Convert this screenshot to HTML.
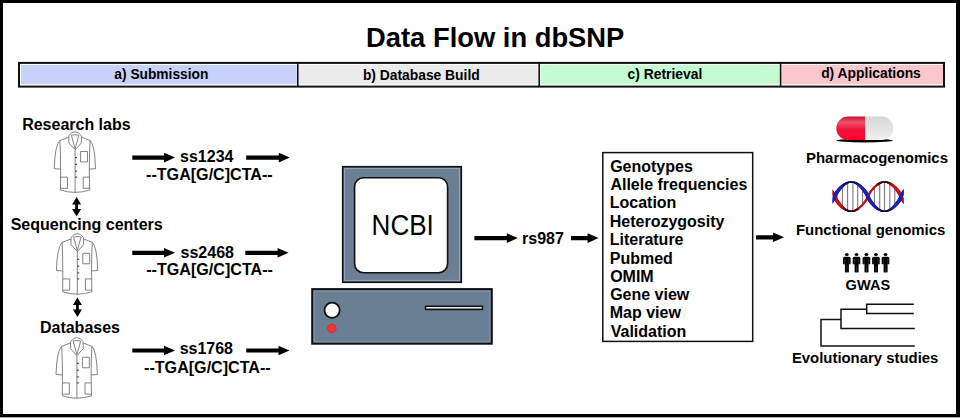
<!DOCTYPE html>
<html><head><meta charset="utf-8"><title>Data Flow in dbSNP</title>
<style>
html,body{margin:0;padding:0;background:#fff;}
body{width:960px;height:418px;overflow:hidden;position:relative;font-family:"Liberation Sans",sans-serif;}
svg{position:absolute;left:0;top:0;}
</style></head>
<body>
<svg width="960" height="418" viewBox="0 0 960 418">
<defs>
<linearGradient id="redg" x1="0" y1="0" x2="0" y2="1">
<stop offset="0" stop-color="#c8102e"/><stop offset="0.25" stop-color="#f0526a"/><stop offset="0.55" stop-color="#f0143a"/><stop offset="1" stop-color="#ff0030"/>
</linearGradient>
<linearGradient id="whg" x1="0" y1="0" x2="0" y2="1">
<stop offset="0" stop-color="#d8d8d8"/><stop offset="0.5" stop-color="#e2e2e2"/><stop offset="1" stop-color="#f2f2f2"/>
</linearGradient>
</defs>
<rect x="0" y="0" width="960" height="418" fill="#fff"/>
<rect x="1.5" y="1.5" width="956" height="414" fill="none" stroke="#000" stroke-width="3"/><rect x="956" y="0" width="4" height="417" fill="#000"/><rect x="0" y="417" width="960" height="1" fill="#aaa"/>
<!-- header bar -->
<rect x="20" y="63.9" width="277.5" height="21.7" fill="#fff"/>
<rect x="298.5" y="63.9" width="240.5" height="21.7" fill="#fff"/>
<rect x="539.5" y="63.9" width="241" height="21.7" fill="#fff"/>
<rect x="781" y="63.9" width="163" height="21.7" fill="#fff"/>
<rect x="21" y="64.9" width="275.8" height="19.4" fill="#c8d1f9"/>
<rect x="299" y="64.9" width="239.4" height="19.4" fill="#ebebeb"/>
<rect x="540.5" y="64.9" width="239.2" height="19.4" fill="#c4fbd2"/>
<rect x="781.8" y="64.9" width="161.4" height="19.4" fill="#f9c7cc"/>
<rect x="19" y="62.9" width="925" height="23.7" fill="none" stroke="#111" stroke-width="2"/>
<line x1="297.8" y1="63" x2="297.8" y2="86.6" stroke="#111" stroke-width="1.6"/>
<line x1="539.2" y1="63" x2="539.2" y2="86.6" stroke="#111" stroke-width="1.6"/>
<line x1="780.6" y1="63" x2="780.6" y2="86.6" stroke="#111" stroke-width="1.6"/>
<!-- arrows -->
<path d="M132.3,155.5 L164.0,155.5 L164.0,152.79999999999998 L175.0,157.6 L164.0,162.4 L164.0,159.7 L132.3,159.7 Z" fill="#000"/><path d="M246.2,155.5 L278.8,155.5 L278.8,152.79999999999998 L289.8,157.6 L278.8,162.4 L278.8,159.7 L246.2,159.7 Z" fill="#000"/><path d="M132.3,250.70000000000002 L164.0,250.70000000000002 L164.0,248.0 L175.0,252.8 L164.0,257.6 L164.0,254.9 L132.3,254.9 Z" fill="#000"/><path d="M245.3,250.70000000000002 L277.6,250.70000000000002 L277.6,248.0 L288.6,252.8 L277.6,257.6 L277.6,254.9 L245.3,254.9 Z" fill="#000"/><path d="M132.3,348.4 L164.0,348.4 L164.0,345.7 L175.0,350.5 L164.0,355.3 L164.0,352.6 L132.3,352.6 Z" fill="#000"/><path d="M246.2,348.4 L278.5,348.4 L278.5,345.7 L289.5,350.5 L278.5,355.3 L278.5,352.6 L246.2,352.6 Z" fill="#000"/><path d="M474.4,236.0 L506.79999999999995,236.0 L506.79999999999995,233.29999999999998 L517.8,238.1 L506.79999999999995,242.9 L506.79999999999995,240.2 L474.4,240.2 Z" fill="#000"/><path d="M571,236.0 L587.5999999999999,236.0 L587.5999999999999,233.29999999999998 L598.5999999999999,238.1 L587.5999999999999,242.9 L587.5999999999999,240.2 L571,240.2 Z" fill="#000"/><path d="M756,235.20000000000002 L773.0999999999999,235.20000000000002 L773.0999999999999,232.5 L784.0999999999999,237.3 L773.0999999999999,242.10000000000002 L773.0999999999999,239.4 L756,239.4 Z" fill="#000"/><path d="M76.6,196.9 L81.1,204.4 L78.0,204.4 L78.0,208.9 L81.1,208.9 L76.6,216.4 L72.1,208.9 L75.19999999999999,208.9 L75.19999999999999,204.4 L72.1,204.4 Z" fill="#000"/><path d="M77.4,297.4 L81.9,304.9 L78.80000000000001,304.9 L78.80000000000001,309.6 L81.9,309.6 L77.4,317.1 L72.9,309.6 L76.0,309.6 L76.0,304.9 L72.9,304.9 Z" fill="#000"/>
<!-- coats -->
<g transform="translate(53.4,131.0) scale(1.0,1.025)" fill="none" stroke="#777" stroke-width="0.9"><path d="M15.4,4.6 Q21.7,-3.2 28,4.6"/><path d="M18,4.1 Q21.7,3.2 25.5,4.1"/><path d="M15.4,4.6 L15.4,11.6 L21.7,18.4 L28,11.6 L28,4.6"/><path d="M18,4.1 L21.7,17.4 L25.5,4.1"/><path d="M15.4,6 L6.5,9.3 Q1.5,14 0.8,36.8 L7.2,37.2"/><path d="M28,6 L36.7,9.3 Q41.6,14 42.1,36.8 L35.9,37.2"/><path d="M6.5,9.3 Q7.2,22 7.2,37.2"/><path d="M36.7,9.3 Q35.9,22 35.9,37.2"/><path d="M7.2,37.2 L7.1,57.6"/><path d="M35.9,37.2 L36.3,57.6"/><path d="M7.1,57.6 Q21.6,62.2 36.3,57.6"/><path d="M21.7,18.4 L21.7,60.3"/><path d="M27.2,20 L34.1,20 L34.1,30.2 L27.2,30.2 Z"/><path d="M7.3,45 L14.1,45 L14.1,55.9 L7.3,55.9"/><path d="M36.1,45 L29.8,45 L29.8,55.9 L36.1,55.9"/><g stroke="#444" stroke-width="1.2"><line x1="21.7" y1="25.9" x2="23.6" y2="25.9"/><line x1="21.7" y1="32.6" x2="23.6" y2="32.6"/><line x1="21.7" y1="39.1" x2="23.6" y2="39.1"/><line x1="21.7" y1="45" x2="23.6" y2="45"/></g></g><g transform="translate(55.6,232.8) scale(1.0,1.025)" fill="none" stroke="#777" stroke-width="0.9"><path d="M15.4,4.6 Q21.7,-3.2 28,4.6"/><path d="M18,4.1 Q21.7,3.2 25.5,4.1"/><path d="M15.4,4.6 L15.4,11.6 L21.7,18.4 L28,11.6 L28,4.6"/><path d="M18,4.1 L21.7,17.4 L25.5,4.1"/><path d="M15.4,6 L6.5,9.3 Q1.5,14 0.8,36.8 L7.2,37.2"/><path d="M28,6 L36.7,9.3 Q41.6,14 42.1,36.8 L35.9,37.2"/><path d="M6.5,9.3 Q7.2,22 7.2,37.2"/><path d="M36.7,9.3 Q35.9,22 35.9,37.2"/><path d="M7.2,37.2 L7.1,57.6"/><path d="M35.9,37.2 L36.3,57.6"/><path d="M7.1,57.6 Q21.6,62.2 36.3,57.6"/><path d="M21.7,18.4 L21.7,60.3"/><path d="M27.2,20 L34.1,20 L34.1,30.2 L27.2,30.2 Z"/><path d="M7.3,45 L14.1,45 L14.1,55.9 L7.3,55.9"/><path d="M36.1,45 L29.8,45 L29.8,55.9 L36.1,55.9"/><g stroke="#444" stroke-width="1.2"><line x1="21.7" y1="25.9" x2="23.6" y2="25.9"/><line x1="21.7" y1="32.6" x2="23.6" y2="32.6"/><line x1="21.7" y1="39.1" x2="23.6" y2="39.1"/><line x1="21.7" y1="45" x2="23.6" y2="45"/></g></g><g transform="translate(55.2,336.8) scale(1.0,1.025)" fill="none" stroke="#777" stroke-width="0.9"><path d="M15.4,4.6 Q21.7,-3.2 28,4.6"/><path d="M18,4.1 Q21.7,3.2 25.5,4.1"/><path d="M15.4,4.6 L15.4,11.6 L21.7,18.4 L28,11.6 L28,4.6"/><path d="M18,4.1 L21.7,17.4 L25.5,4.1"/><path d="M15.4,6 L6.5,9.3 Q1.5,14 0.8,36.8 L7.2,37.2"/><path d="M28,6 L36.7,9.3 Q41.6,14 42.1,36.8 L35.9,37.2"/><path d="M6.5,9.3 Q7.2,22 7.2,37.2"/><path d="M36.7,9.3 Q35.9,22 35.9,37.2"/><path d="M7.2,37.2 L7.1,57.6"/><path d="M35.9,37.2 L36.3,57.6"/><path d="M7.1,57.6 Q21.6,62.2 36.3,57.6"/><path d="M21.7,18.4 L21.7,60.3"/><path d="M27.2,20 L34.1,20 L34.1,30.2 L27.2,30.2 Z"/><path d="M7.3,45 L14.1,45 L14.1,55.9 L7.3,55.9"/><path d="M36.1,45 L29.8,45 L29.8,55.9 L36.1,55.9"/><g stroke="#444" stroke-width="1.2"><line x1="21.7" y1="25.9" x2="23.6" y2="25.9"/><line x1="21.7" y1="32.6" x2="23.6" y2="32.6"/><line x1="21.7" y1="39.1" x2="23.6" y2="39.1"/><line x1="21.7" y1="45" x2="23.6" y2="45"/></g></g>
<!-- monitor -->
<rect x="342.7" y="166.7" width="118.6" height="115.6" fill="#6a7e94" stroke="#111" stroke-width="1.6"/>
<rect x="344.6" y="168.6" width="114.8" height="111.8" fill="none" stroke="#97a7b9" stroke-width="1"/>
<rect x="354.6" y="177.8" width="93" height="95" rx="9" ry="9" fill="#fff" stroke="#111" stroke-width="1.6"/>
<!-- base -->
<rect x="312.2" y="289.1" width="179.6" height="54.6" fill="#6a7e94" stroke="#111" stroke-width="2"/><rect x="314.2" y="291.1" width="175.6" height="50.6" fill="none" stroke="#8a9caf" stroke-width="0.8"/>
<circle cx="332.1" cy="310.2" r="7.6" fill="#fff" stroke="#111" stroke-width="1.8"/>
<circle cx="331.8" cy="328.4" r="4.3" fill="#ff3030" stroke="#d02020" stroke-width="0.6"/>
<rect x="424.8" y="305.4" width="58.4" height="4.8" rx="0.8" fill="#111"/><rect x="426.2" y="307.1" width="55.6" height="1.4" fill="#fff"/>
<!-- list box -->
<rect x="602.8" y="152.6" width="149.9" height="188.8" fill="#fff" stroke="#111" stroke-width="1.5"/>
<!-- pill -->
<ellipse cx="864.7" cy="140.6" rx="28.5" ry="1.8" fill="#000"/>
<path d="M865.2,116.5 L848,116.5 A11.7,11.7 0 0 0 848,139.9 L865.2,139.9 Z" fill="url(#redg)"/>
<path d="M865.2,116.5 L881.7,116.5 A11.7,11.7 0 0 1 881.7,139.9 L865.2,139.9 Z" fill="url(#whg)"/>
<!-- GWAS people -->
<g fill="#000"><ellipse cx="846.8" cy="254.4" rx="1.9" ry="1.5"/><path d="M843,264.3 L843,258.2 Q843,256.7 844.5,256.7 L849.1,256.7 Q850.6,256.7 850.6,258.2 L850.6,264.3 Z"/><rect x="844.9" y="263.5" width="4" height="8.9"/></g><g stroke="#555" stroke-width="0.5"><line x1="844.6" y1="258.5" x2="844.6" y2="264.3"/><line x1="849.0" y1="258.5" x2="849.0" y2="264.3"/><line x1="846.9" y1="265.5" x2="846.9" y2="272.4"/></g><g fill="#000"><ellipse cx="856.5" cy="254.4" rx="1.9" ry="1.5"/><path d="M852.7,264.3 L852.7,258.2 Q852.7,256.7 854.2,256.7 L858.8000000000001,256.7 Q860.3000000000001,256.7 860.3000000000001,258.2 L860.3000000000001,264.3 Z"/><rect x="854.6" y="263.5" width="4" height="8.9"/></g><g stroke="#555" stroke-width="0.5"><line x1="854.3000000000001" y1="258.5" x2="854.3000000000001" y2="264.3"/><line x1="858.7" y1="258.5" x2="858.7" y2="264.3"/><line x1="856.6" y1="265.5" x2="856.6" y2="272.4"/></g><g fill="#000"><ellipse cx="866.4" cy="254.4" rx="1.9" ry="1.5"/><path d="M862.6,264.3 L862.6,258.2 Q862.6,256.7 864.1,256.7 L868.7,256.7 Q870.2,256.7 870.2,258.2 L870.2,264.3 Z"/><rect x="864.5" y="263.5" width="4" height="8.9"/></g><g stroke="#555" stroke-width="0.5"><line x1="864.2" y1="258.5" x2="864.2" y2="264.3"/><line x1="868.6" y1="258.5" x2="868.6" y2="264.3"/><line x1="866.5" y1="265.5" x2="866.5" y2="272.4"/></g><g fill="#000"><ellipse cx="875.9" cy="254.4" rx="1.9" ry="1.5"/><path d="M872.1,264.3 L872.1,258.2 Q872.1,256.7 873.6,256.7 L878.2,256.7 Q879.7,256.7 879.7,258.2 L879.7,264.3 Z"/><rect x="874.0" y="263.5" width="4" height="8.9"/></g><g stroke="#555" stroke-width="0.5"><line x1="873.7" y1="258.5" x2="873.7" y2="264.3"/><line x1="878.1" y1="258.5" x2="878.1" y2="264.3"/><line x1="876.0" y1="265.5" x2="876.0" y2="272.4"/></g><g fill="#000"><ellipse cx="885.5" cy="254.4" rx="1.9" ry="1.5"/><path d="M881.7,264.3 L881.7,258.2 Q881.7,256.7 883.2,256.7 L887.8000000000001,256.7 Q889.3000000000001,256.7 889.3000000000001,258.2 L889.3000000000001,264.3 Z"/><rect x="883.6" y="263.5" width="4" height="8.9"/></g><g stroke="#555" stroke-width="0.5"><line x1="883.3000000000001" y1="258.5" x2="883.3000000000001" y2="264.3"/><line x1="887.7" y1="258.5" x2="887.7" y2="264.3"/><line x1="885.6" y1="265.5" x2="885.6" y2="272.4"/></g>
<!-- tree -->
<g fill="none" stroke="#111" stroke-width="1.5">
<path d="M914.8,346 L821,346 L821,319.4 L841,319.4"/>
<path d="M914.8,328.6 L841,328.6 L841,309.3 L866.7,309.3"/>
<path d="M913.8,304.3 L866.7,304.3 L866.7,313.4 L913.8,313.4"/>
</g>
<clipPath id="dnaclip"><rect x="832.7" y="176" width="70.8" height="40"/></clipPath><g clip-path="url(#dnaclip)"><line x1="837.3" y1="192.75" x2="837.3" y2="200.45" stroke="#7a7a7a" stroke-width="1.1"/><line x1="842.4" y1="186.99" x2="842.4" y2="206.21" stroke="#7a7a7a" stroke-width="1.1"/><line x1="847.6" y1="183.69" x2="847.6" y2="209.51" stroke="#7a7a7a" stroke-width="1.1"/><line x1="852.9" y1="183.14" x2="852.9" y2="210.06" stroke="#7a7a7a" stroke-width="1.1"/><line x1="857.7" y1="185.14" x2="857.7" y2="208.06" stroke="#7a7a7a" stroke-width="1.1"/><line x1="862.6" y1="189.49" x2="862.6" y2="203.71" stroke="#7a7a7a" stroke-width="1.1"/><line x1="869.6" y1="194.23" x2="869.6" y2="198.97" stroke="#7a7a7a" stroke-width="1.1"/><line x1="874.4" y1="188.22" x2="874.4" y2="204.98" stroke="#7a7a7a" stroke-width="1.1"/><line x1="879.7" y1="184.21" x2="879.7" y2="208.99" stroke="#7a7a7a" stroke-width="1.1"/><line x1="884.5" y1="183.00" x2="884.5" y2="210.20" stroke="#7a7a7a" stroke-width="1.1"/><line x1="889.8" y1="184.42" x2="889.8" y2="208.78" stroke="#7a7a7a" stroke-width="1.1"/><line x1="894.8" y1="188.32" x2="894.8" y2="204.88" stroke="#7a7a7a" stroke-width="1.1"/><line x1="826.27" y1="185.54" x2="826.97" y2="186.14" stroke="#b1101b" stroke-width="2.83" stroke-linecap="round"/><line x1="826.97" y1="186.14" x2="827.66" y2="186.78" stroke="#bf111c" stroke-width="2.96" stroke-linecap="round"/><line x1="827.66" y1="186.78" x2="828.36" y2="187.48" stroke="#c8121e" stroke-width="3.08" stroke-linecap="round"/><line x1="828.36" y1="187.48" x2="829.05" y2="188.21" stroke="#c8121e" stroke-width="3.20" stroke-linecap="round"/><line x1="829.05" y1="188.21" x2="829.74" y2="189.00" stroke="#c8121e" stroke-width="3.30" stroke-linecap="round"/><line x1="829.74" y1="189.00" x2="830.44" y2="189.83" stroke="#c8121e" stroke-width="3.40" stroke-linecap="round"/><line x1="830.44" y1="189.83" x2="831.13" y2="190.71" stroke="#c8121e" stroke-width="3.48" stroke-linecap="round"/><line x1="831.13" y1="190.71" x2="831.83" y2="191.65" stroke="#c8121e" stroke-width="3.55" stroke-linecap="round"/><line x1="831.83" y1="191.65" x2="832.52" y2="192.65" stroke="#c8121e" stroke-width="3.61" stroke-linecap="round"/><line x1="832.52" y1="192.65" x2="833.21" y2="193.74" stroke="#c8121e" stroke-width="3.65" stroke-linecap="round"/><line x1="833.21" y1="193.74" x2="833.91" y2="194.95" stroke="#c8121e" stroke-width="3.68" stroke-linecap="round"/><line x1="833.91" y1="194.95" x2="834.60" y2="196.60" stroke="#c8121e" stroke-width="3.70" stroke-linecap="round"/><line x1="834.60" y1="196.60" x2="835.29" y2="198.25" stroke="#c8121e" stroke-width="3.70" stroke-linecap="round"/><line x1="835.29" y1="198.25" x2="835.99" y2="199.46" stroke="#c8121e" stroke-width="3.68" stroke-linecap="round"/><line x1="835.99" y1="199.46" x2="836.68" y2="200.55" stroke="#c8121e" stroke-width="3.65" stroke-linecap="round"/><line x1="836.68" y1="200.55" x2="837.38" y2="201.55" stroke="#c8121e" stroke-width="3.61" stroke-linecap="round"/><line x1="837.38" y1="201.55" x2="838.07" y2="202.49" stroke="#c8121e" stroke-width="3.55" stroke-linecap="round"/><line x1="838.07" y1="202.49" x2="838.76" y2="203.37" stroke="#c8121e" stroke-width="3.48" stroke-linecap="round"/><line x1="838.76" y1="203.37" x2="839.46" y2="204.20" stroke="#c8121e" stroke-width="3.40" stroke-linecap="round"/><line x1="839.46" y1="204.20" x2="840.15" y2="204.99" stroke="#c8121e" stroke-width="3.30" stroke-linecap="round"/><line x1="840.15" y1="204.99" x2="840.84" y2="205.72" stroke="#c8121e" stroke-width="3.20" stroke-linecap="round"/><line x1="840.84" y1="205.72" x2="841.54" y2="206.42" stroke="#c8121e" stroke-width="3.08" stroke-linecap="round"/><line x1="841.54" y1="206.42" x2="842.23" y2="207.06" stroke="#bf111c" stroke-width="2.96" stroke-linecap="round"/><line x1="842.23" y1="207.06" x2="842.93" y2="207.66" stroke="#b1101b" stroke-width="2.83" stroke-linecap="round"/><line x1="842.93" y1="207.66" x2="843.62" y2="208.22" stroke="#a30f19" stroke-width="2.70" stroke-linecap="round"/><line x1="843.62" y1="208.22" x2="844.31" y2="208.73" stroke="#930e17" stroke-width="2.56" stroke-linecap="round"/><line x1="844.31" y1="208.73" x2="845.01" y2="209.20" stroke="#830c15" stroke-width="2.42" stroke-linecap="round"/><line x1="845.01" y1="209.20" x2="845.70" y2="209.61" stroke="#710b13" stroke-width="2.28" stroke-linecap="round"/><line x1="845.70" y1="209.61" x2="846.39" y2="209.98" stroke="#600a10" stroke-width="2.14" stroke-linecap="round"/><line x1="846.39" y1="209.98" x2="847.09" y2="210.30" stroke="#4d080e" stroke-width="2.01" stroke-linecap="round"/><line x1="847.09" y1="210.30" x2="847.78" y2="210.58" stroke="#3a070c" stroke-width="1.88" stroke-linecap="round"/><line x1="847.78" y1="210.58" x2="848.48" y2="210.80" stroke="#2a060a" stroke-width="1.76" stroke-linecap="round"/><line x1="848.48" y1="210.80" x2="849.17" y2="210.98" stroke="#2a060a" stroke-width="1.65" stroke-linecap="round"/><line x1="849.17" y1="210.98" x2="849.86" y2="211.10" stroke="#2a060a" stroke-width="1.55" stroke-linecap="round"/><line x1="849.86" y1="211.10" x2="850.56" y2="211.17" stroke="#2a060a" stroke-width="1.47" stroke-linecap="round"/><line x1="850.56" y1="211.17" x2="851.25" y2="211.20" stroke="#2a060a" stroke-width="1.42" stroke-linecap="round"/><line x1="851.25" y1="211.20" x2="851.94" y2="211.17" stroke="#2a060a" stroke-width="1.42" stroke-linecap="round"/><line x1="851.94" y1="211.17" x2="852.64" y2="211.10" stroke="#2a060a" stroke-width="1.47" stroke-linecap="round"/><line x1="852.64" y1="211.10" x2="853.33" y2="210.98" stroke="#2a060a" stroke-width="1.55" stroke-linecap="round"/><line x1="853.33" y1="210.98" x2="854.02" y2="210.80" stroke="#2a060a" stroke-width="1.65" stroke-linecap="round"/><line x1="854.02" y1="210.80" x2="854.72" y2="210.58" stroke="#2a060a" stroke-width="1.76" stroke-linecap="round"/><line x1="854.72" y1="210.58" x2="855.41" y2="210.30" stroke="#3a070c" stroke-width="1.88" stroke-linecap="round"/><line x1="855.41" y1="210.30" x2="856.11" y2="209.98" stroke="#4d080e" stroke-width="2.01" stroke-linecap="round"/><line x1="856.11" y1="209.98" x2="856.80" y2="209.61" stroke="#600a10" stroke-width="2.14" stroke-linecap="round"/><line x1="856.80" y1="209.61" x2="857.49" y2="209.20" stroke="#710b13" stroke-width="2.28" stroke-linecap="round"/><line x1="857.49" y1="209.20" x2="858.19" y2="208.73" stroke="#830c15" stroke-width="2.42" stroke-linecap="round"/><line x1="858.19" y1="208.73" x2="858.88" y2="208.22" stroke="#930e17" stroke-width="2.11" stroke-linecap="round"/><line x1="858.88" y1="208.22" x2="859.58" y2="207.66" stroke="#a30f19" stroke-width="1.76" stroke-linecap="round"/><line x1="859.58" y1="207.66" x2="860.27" y2="207.06" stroke="#b1101b" stroke-width="1.83" stroke-linecap="round"/><line x1="860.27" y1="207.06" x2="860.96" y2="206.42" stroke="#bf111c" stroke-width="1.88" stroke-linecap="round"/><line x1="860.96" y1="206.42" x2="861.66" y2="205.72" stroke="#c8121e" stroke-width="1.94" stroke-linecap="round"/><line x1="861.66" y1="205.72" x2="862.35" y2="204.99" stroke="#c8121e" stroke-width="1.99" stroke-linecap="round"/><line x1="862.35" y1="204.99" x2="863.04" y2="204.20" stroke="#c8121e" stroke-width="2.04" stroke-linecap="round"/><line x1="863.04" y1="204.20" x2="863.74" y2="203.37" stroke="#c8121e" stroke-width="2.08" stroke-linecap="round"/><line x1="863.74" y1="203.37" x2="864.43" y2="202.49" stroke="#c8121e" stroke-width="2.12" stroke-linecap="round"/><line x1="864.43" y1="202.49" x2="865.12" y2="201.55" stroke="#c8121e" stroke-width="2.15" stroke-linecap="round"/><line x1="865.12" y1="201.55" x2="865.82" y2="200.55" stroke="#c8121e" stroke-width="2.17" stroke-linecap="round"/><line x1="865.82" y1="200.55" x2="866.51" y2="199.46" stroke="#c8121e" stroke-width="2.19" stroke-linecap="round"/><line x1="866.51" y1="199.46" x2="867.21" y2="198.25" stroke="#c8121e" stroke-width="2.21" stroke-linecap="round"/><line x1="867.21" y1="198.25" x2="867.90" y2="196.60" stroke="#c8121e" stroke-width="2.21" stroke-linecap="round"/><line x1="867.90" y1="196.60" x2="868.59" y2="194.95" stroke="#c8121e" stroke-width="2.21" stroke-linecap="round"/><line x1="868.59" y1="194.95" x2="869.29" y2="193.74" stroke="#c8121e" stroke-width="2.21" stroke-linecap="round"/><line x1="869.29" y1="193.74" x2="869.98" y2="192.65" stroke="#c8121e" stroke-width="2.19" stroke-linecap="round"/><line x1="869.98" y1="192.65" x2="870.68" y2="191.65" stroke="#c8121e" stroke-width="2.17" stroke-linecap="round"/><line x1="870.68" y1="191.65" x2="871.37" y2="190.71" stroke="#c8121e" stroke-width="2.15" stroke-linecap="round"/><line x1="871.37" y1="190.71" x2="872.06" y2="189.83" stroke="#c8121e" stroke-width="2.12" stroke-linecap="round"/><line x1="872.06" y1="189.83" x2="872.76" y2="189.00" stroke="#c8121e" stroke-width="2.08" stroke-linecap="round"/><line x1="872.76" y1="189.00" x2="873.45" y2="188.21" stroke="#c8121e" stroke-width="2.04" stroke-linecap="round"/><line x1="873.45" y1="188.21" x2="874.14" y2="187.48" stroke="#c8121e" stroke-width="1.99" stroke-linecap="round"/><line x1="874.14" y1="187.48" x2="874.84" y2="186.78" stroke="#c8121e" stroke-width="1.94" stroke-linecap="round"/><line x1="874.84" y1="186.78" x2="875.53" y2="186.14" stroke="#bf111c" stroke-width="1.88" stroke-linecap="round"/><line x1="875.53" y1="186.14" x2="876.23" y2="185.54" stroke="#b1101b" stroke-width="1.83" stroke-linecap="round"/><line x1="876.23" y1="185.54" x2="876.92" y2="184.98" stroke="#a30f19" stroke-width="1.76" stroke-linecap="round"/><line x1="876.92" y1="184.98" x2="877.61" y2="184.47" stroke="#930e17" stroke-width="2.11" stroke-linecap="round"/><line x1="877.61" y1="184.47" x2="878.31" y2="184.00" stroke="#830c15" stroke-width="2.42" stroke-linecap="round"/><line x1="878.31" y1="184.00" x2="879.00" y2="183.59" stroke="#710b13" stroke-width="2.28" stroke-linecap="round"/><line x1="879.00" y1="183.59" x2="879.69" y2="183.22" stroke="#600a10" stroke-width="2.14" stroke-linecap="round"/><line x1="879.69" y1="183.22" x2="880.39" y2="182.90" stroke="#4d080e" stroke-width="2.01" stroke-linecap="round"/><line x1="880.39" y1="182.90" x2="881.08" y2="182.62" stroke="#3a070c" stroke-width="1.88" stroke-linecap="round"/><line x1="881.08" y1="182.62" x2="881.78" y2="182.40" stroke="#2a060a" stroke-width="1.76" stroke-linecap="round"/><line x1="881.78" y1="182.40" x2="882.47" y2="182.22" stroke="#2a060a" stroke-width="1.65" stroke-linecap="round"/><line x1="882.47" y1="182.22" x2="883.16" y2="182.10" stroke="#2a060a" stroke-width="1.55" stroke-linecap="round"/><line x1="883.16" y1="182.10" x2="883.86" y2="182.03" stroke="#2a060a" stroke-width="1.47" stroke-linecap="round"/><line x1="883.86" y1="182.03" x2="884.55" y2="182.00" stroke="#2a060a" stroke-width="1.42" stroke-linecap="round"/><line x1="884.55" y1="182.00" x2="885.24" y2="182.03" stroke="#2a060a" stroke-width="1.42" stroke-linecap="round"/><line x1="885.24" y1="182.03" x2="885.94" y2="182.10" stroke="#2a060a" stroke-width="1.47" stroke-linecap="round"/><line x1="885.94" y1="182.10" x2="886.63" y2="182.22" stroke="#2a060a" stroke-width="1.55" stroke-linecap="round"/><line x1="886.63" y1="182.22" x2="887.33" y2="182.40" stroke="#2a060a" stroke-width="1.65" stroke-linecap="round"/><line x1="887.33" y1="182.40" x2="888.02" y2="182.62" stroke="#2a060a" stroke-width="1.76" stroke-linecap="round"/><line x1="888.02" y1="182.62" x2="888.71" y2="182.90" stroke="#3a070c" stroke-width="1.88" stroke-linecap="round"/><line x1="888.71" y1="182.90" x2="889.41" y2="183.22" stroke="#4d080e" stroke-width="2.01" stroke-linecap="round"/><line x1="889.41" y1="183.22" x2="890.10" y2="183.59" stroke="#600a10" stroke-width="2.14" stroke-linecap="round"/><line x1="890.10" y1="183.59" x2="890.79" y2="184.00" stroke="#710b13" stroke-width="2.28" stroke-linecap="round"/><line x1="890.79" y1="184.00" x2="891.49" y2="184.47" stroke="#830c15" stroke-width="2.42" stroke-linecap="round"/><line x1="891.49" y1="184.47" x2="892.18" y2="184.98" stroke="#930e17" stroke-width="2.56" stroke-linecap="round"/><line x1="892.18" y1="184.98" x2="892.88" y2="185.54" stroke="#a30f19" stroke-width="2.70" stroke-linecap="round"/><line x1="892.88" y1="185.54" x2="893.57" y2="186.14" stroke="#b1101b" stroke-width="2.83" stroke-linecap="round"/><line x1="893.57" y1="186.14" x2="894.26" y2="186.78" stroke="#bf111c" stroke-width="2.96" stroke-linecap="round"/><line x1="894.26" y1="186.78" x2="894.96" y2="187.48" stroke="#c8121e" stroke-width="3.08" stroke-linecap="round"/><line x1="894.96" y1="187.48" x2="895.65" y2="188.21" stroke="#c8121e" stroke-width="3.20" stroke-linecap="round"/><line x1="895.65" y1="188.21" x2="896.34" y2="189.00" stroke="#c8121e" stroke-width="3.30" stroke-linecap="round"/><line x1="896.34" y1="189.00" x2="897.04" y2="189.83" stroke="#c8121e" stroke-width="3.40" stroke-linecap="round"/><line x1="897.04" y1="189.83" x2="897.73" y2="190.71" stroke="#c8121e" stroke-width="3.48" stroke-linecap="round"/><line x1="897.73" y1="190.71" x2="898.43" y2="191.65" stroke="#c8121e" stroke-width="3.55" stroke-linecap="round"/><line x1="898.43" y1="191.65" x2="899.12" y2="192.65" stroke="#c8121e" stroke-width="3.61" stroke-linecap="round"/><line x1="899.12" y1="192.65" x2="899.81" y2="193.74" stroke="#c8121e" stroke-width="3.65" stroke-linecap="round"/><line x1="899.81" y1="193.74" x2="900.51" y2="194.95" stroke="#c8121e" stroke-width="3.68" stroke-linecap="round"/><line x1="900.51" y1="194.95" x2="901.20" y2="196.60" stroke="#c8121e" stroke-width="3.70" stroke-linecap="round"/><line x1="901.20" y1="196.60" x2="901.89" y2="198.25" stroke="#c8121e" stroke-width="3.70" stroke-linecap="round"/><line x1="901.89" y1="198.25" x2="902.59" y2="199.46" stroke="#c8121e" stroke-width="3.68" stroke-linecap="round"/><line x1="902.59" y1="199.46" x2="903.28" y2="200.55" stroke="#c8121e" stroke-width="3.65" stroke-linecap="round"/><line x1="903.28" y1="200.55" x2="903.98" y2="201.55" stroke="#c8121e" stroke-width="3.61" stroke-linecap="round"/><line x1="903.98" y1="201.55" x2="904.67" y2="202.49" stroke="#c8121e" stroke-width="3.55" stroke-linecap="round"/><line x1="904.67" y1="202.49" x2="905.36" y2="203.37" stroke="#c8121e" stroke-width="3.48" stroke-linecap="round"/><line x1="905.36" y1="203.37" x2="906.06" y2="204.20" stroke="#c8121e" stroke-width="3.40" stroke-linecap="round"/><line x1="906.06" y1="204.20" x2="906.75" y2="204.99" stroke="#c8121e" stroke-width="3.30" stroke-linecap="round"/><line x1="906.75" y1="204.99" x2="907.44" y2="205.72" stroke="#c8121e" stroke-width="3.20" stroke-linecap="round"/><line x1="907.44" y1="205.72" x2="908.14" y2="206.42" stroke="#c8121e" stroke-width="3.08" stroke-linecap="round"/><line x1="908.14" y1="206.42" x2="908.83" y2="207.06" stroke="#bf111c" stroke-width="2.96" stroke-linecap="round"/><line x1="908.83" y1="207.06" x2="909.53" y2="207.66" stroke="#b1101b" stroke-width="2.83" stroke-linecap="round"/><line x1="826.27" y1="207.66" x2="826.97" y2="207.06" stroke="#1d1da2" stroke-width="2.83" stroke-linecap="round"/><line x1="826.97" y1="207.06" x2="827.66" y2="206.42" stroke="#1e1ead" stroke-width="2.96" stroke-linecap="round"/><line x1="827.66" y1="206.42" x2="828.36" y2="205.72" stroke="#2020b4" stroke-width="3.08" stroke-linecap="round"/><line x1="828.36" y1="205.72" x2="829.05" y2="204.99" stroke="#2020b4" stroke-width="3.20" stroke-linecap="round"/><line x1="829.05" y1="204.99" x2="829.74" y2="204.20" stroke="#2020b4" stroke-width="3.30" stroke-linecap="round"/><line x1="829.74" y1="204.20" x2="830.44" y2="203.37" stroke="#2020b4" stroke-width="3.40" stroke-linecap="round"/><line x1="830.44" y1="203.37" x2="831.13" y2="202.49" stroke="#2020b4" stroke-width="3.48" stroke-linecap="round"/><line x1="831.13" y1="202.49" x2="831.83" y2="201.55" stroke="#2020b4" stroke-width="3.55" stroke-linecap="round"/><line x1="831.83" y1="201.55" x2="832.52" y2="200.55" stroke="#2020b4" stroke-width="3.61" stroke-linecap="round"/><line x1="832.52" y1="200.55" x2="833.21" y2="199.46" stroke="#2020b4" stroke-width="3.65" stroke-linecap="round"/><line x1="833.21" y1="199.46" x2="833.91" y2="198.25" stroke="#2020b4" stroke-width="3.68" stroke-linecap="round"/><line x1="833.91" y1="198.25" x2="834.60" y2="196.60" stroke="#2020b4" stroke-width="3.70" stroke-linecap="round"/><line x1="834.60" y1="196.60" x2="835.29" y2="194.95" stroke="#2020b4" stroke-width="3.70" stroke-linecap="round"/><line x1="835.29" y1="194.95" x2="835.99" y2="193.74" stroke="#2020b4" stroke-width="3.68" stroke-linecap="round"/><line x1="835.99" y1="193.74" x2="836.68" y2="192.65" stroke="#2020b4" stroke-width="3.65" stroke-linecap="round"/><line x1="836.68" y1="192.65" x2="837.38" y2="191.65" stroke="#2020b4" stroke-width="3.61" stroke-linecap="round"/><line x1="837.38" y1="191.65" x2="838.07" y2="190.71" stroke="#2020b4" stroke-width="3.55" stroke-linecap="round"/><line x1="838.07" y1="190.71" x2="838.76" y2="189.83" stroke="#2020b4" stroke-width="3.48" stroke-linecap="round"/><line x1="838.76" y1="189.83" x2="839.46" y2="189.00" stroke="#2020b4" stroke-width="3.40" stroke-linecap="round"/><line x1="839.46" y1="189.00" x2="840.15" y2="188.21" stroke="#2020b4" stroke-width="3.30" stroke-linecap="round"/><line x1="840.15" y1="188.21" x2="840.84" y2="187.48" stroke="#2020b4" stroke-width="3.20" stroke-linecap="round"/><line x1="840.84" y1="187.48" x2="841.54" y2="186.78" stroke="#2020b4" stroke-width="3.08" stroke-linecap="round"/><line x1="841.54" y1="186.78" x2="842.23" y2="186.14" stroke="#1e1ead" stroke-width="2.96" stroke-linecap="round"/><line x1="842.23" y1="186.14" x2="842.93" y2="185.54" stroke="#1d1da2" stroke-width="2.83" stroke-linecap="round"/><line x1="842.93" y1="185.54" x2="843.62" y2="184.98" stroke="#1b1b97" stroke-width="2.70" stroke-linecap="round"/><line x1="843.62" y1="184.98" x2="844.31" y2="184.47" stroke="#19198a" stroke-width="2.56" stroke-linecap="round"/><line x1="844.31" y1="184.47" x2="845.01" y2="184.00" stroke="#17177d" stroke-width="2.42" stroke-linecap="round"/><line x1="845.01" y1="184.00" x2="845.70" y2="183.59" stroke="#151570" stroke-width="2.28" stroke-linecap="round"/><line x1="845.70" y1="183.59" x2="846.39" y2="183.22" stroke="#121262" stroke-width="2.14" stroke-linecap="round"/><line x1="846.39" y1="183.22" x2="847.09" y2="182.90" stroke="#101053" stroke-width="2.01" stroke-linecap="round"/><line x1="847.09" y1="182.90" x2="847.78" y2="182.62" stroke="#0e0e44" stroke-width="1.88" stroke-linecap="round"/><line x1="847.78" y1="182.62" x2="848.48" y2="182.40" stroke="#0c0c38" stroke-width="1.76" stroke-linecap="round"/><line x1="848.48" y1="182.40" x2="849.17" y2="182.22" stroke="#0c0c38" stroke-width="1.65" stroke-linecap="round"/><line x1="849.17" y1="182.22" x2="849.86" y2="182.10" stroke="#0c0c38" stroke-width="1.55" stroke-linecap="round"/><line x1="849.86" y1="182.10" x2="850.56" y2="182.03" stroke="#0c0c38" stroke-width="1.47" stroke-linecap="round"/><line x1="850.56" y1="182.03" x2="851.25" y2="182.00" stroke="#0c0c38" stroke-width="1.42" stroke-linecap="round"/><line x1="851.25" y1="182.00" x2="851.94" y2="182.03" stroke="#0c0c38" stroke-width="1.42" stroke-linecap="round"/><line x1="851.94" y1="182.03" x2="852.64" y2="182.10" stroke="#0c0c38" stroke-width="1.47" stroke-linecap="round"/><line x1="852.64" y1="182.10" x2="853.33" y2="182.22" stroke="#0c0c38" stroke-width="1.55" stroke-linecap="round"/><line x1="853.33" y1="182.22" x2="854.02" y2="182.40" stroke="#0c0c38" stroke-width="1.65" stroke-linecap="round"/><line x1="854.02" y1="182.40" x2="854.72" y2="182.62" stroke="#0c0c38" stroke-width="1.76" stroke-linecap="round"/><line x1="854.72" y1="182.62" x2="855.41" y2="182.90" stroke="#0e0e44" stroke-width="1.88" stroke-linecap="round"/><line x1="855.41" y1="182.90" x2="856.11" y2="183.22" stroke="#101053" stroke-width="2.01" stroke-linecap="round"/><line x1="856.11" y1="183.22" x2="856.80" y2="183.59" stroke="#121262" stroke-width="2.14" stroke-linecap="round"/><line x1="856.80" y1="183.59" x2="857.49" y2="184.00" stroke="#151570" stroke-width="2.28" stroke-linecap="round"/><line x1="857.49" y1="184.00" x2="858.19" y2="184.47" stroke="#17177d" stroke-width="2.42" stroke-linecap="round"/><line x1="858.19" y1="184.47" x2="858.88" y2="184.98" stroke="#19198a" stroke-width="2.56" stroke-linecap="round"/><line x1="858.88" y1="184.98" x2="859.58" y2="185.54" stroke="#1b1b97" stroke-width="2.70" stroke-linecap="round"/><line x1="859.58" y1="185.54" x2="860.27" y2="186.14" stroke="#1d1da2" stroke-width="2.83" stroke-linecap="round"/><line x1="860.27" y1="186.14" x2="860.96" y2="186.78" stroke="#1e1ead" stroke-width="2.96" stroke-linecap="round"/><line x1="860.96" y1="186.78" x2="861.66" y2="187.48" stroke="#2020b4" stroke-width="3.08" stroke-linecap="round"/><line x1="861.66" y1="187.48" x2="862.35" y2="188.21" stroke="#2020b4" stroke-width="3.20" stroke-linecap="round"/><line x1="862.35" y1="188.21" x2="863.04" y2="189.00" stroke="#2020b4" stroke-width="3.30" stroke-linecap="round"/><line x1="863.04" y1="189.00" x2="863.74" y2="189.83" stroke="#2020b4" stroke-width="3.40" stroke-linecap="round"/><line x1="863.74" y1="189.83" x2="864.43" y2="190.71" stroke="#2020b4" stroke-width="3.48" stroke-linecap="round"/><line x1="864.43" y1="190.71" x2="865.12" y2="191.65" stroke="#2020b4" stroke-width="3.55" stroke-linecap="round"/><line x1="865.12" y1="191.65" x2="865.82" y2="192.65" stroke="#2020b4" stroke-width="3.61" stroke-linecap="round"/><line x1="865.82" y1="192.65" x2="866.51" y2="193.74" stroke="#2020b4" stroke-width="3.65" stroke-linecap="round"/><line x1="866.51" y1="193.74" x2="867.21" y2="194.95" stroke="#2020b4" stroke-width="3.68" stroke-linecap="round"/><line x1="867.21" y1="194.95" x2="867.90" y2="196.60" stroke="#2020b4" stroke-width="3.70" stroke-linecap="round"/><line x1="867.90" y1="196.60" x2="868.59" y2="198.25" stroke="#2020b4" stroke-width="3.70" stroke-linecap="round"/><line x1="868.59" y1="198.25" x2="869.29" y2="199.46" stroke="#2020b4" stroke-width="3.68" stroke-linecap="round"/><line x1="869.29" y1="199.46" x2="869.98" y2="200.55" stroke="#2020b4" stroke-width="3.65" stroke-linecap="round"/><line x1="869.98" y1="200.55" x2="870.68" y2="201.55" stroke="#2020b4" stroke-width="3.61" stroke-linecap="round"/><line x1="870.68" y1="201.55" x2="871.37" y2="202.49" stroke="#2020b4" stroke-width="3.55" stroke-linecap="round"/><line x1="871.37" y1="202.49" x2="872.06" y2="203.37" stroke="#2020b4" stroke-width="3.48" stroke-linecap="round"/><line x1="872.06" y1="203.37" x2="872.76" y2="204.20" stroke="#2020b4" stroke-width="3.40" stroke-linecap="round"/><line x1="872.76" y1="204.20" x2="873.45" y2="204.99" stroke="#2020b4" stroke-width="3.30" stroke-linecap="round"/><line x1="873.45" y1="204.99" x2="874.14" y2="205.72" stroke="#2020b4" stroke-width="3.20" stroke-linecap="round"/><line x1="874.14" y1="205.72" x2="874.84" y2="206.42" stroke="#2020b4" stroke-width="3.08" stroke-linecap="round"/><line x1="874.84" y1="206.42" x2="875.53" y2="207.06" stroke="#1e1ead" stroke-width="2.96" stroke-linecap="round"/><line x1="875.53" y1="207.06" x2="876.23" y2="207.66" stroke="#1d1da2" stroke-width="2.83" stroke-linecap="round"/><line x1="876.23" y1="207.66" x2="876.92" y2="208.22" stroke="#1b1b97" stroke-width="2.70" stroke-linecap="round"/><line x1="876.92" y1="208.22" x2="877.61" y2="208.73" stroke="#19198a" stroke-width="2.56" stroke-linecap="round"/><line x1="877.61" y1="208.73" x2="878.31" y2="209.20" stroke="#17177d" stroke-width="2.42" stroke-linecap="round"/><line x1="878.31" y1="209.20" x2="879.00" y2="209.61" stroke="#151570" stroke-width="2.28" stroke-linecap="round"/><line x1="879.00" y1="209.61" x2="879.69" y2="209.98" stroke="#121262" stroke-width="2.14" stroke-linecap="round"/><line x1="879.69" y1="209.98" x2="880.39" y2="210.30" stroke="#101053" stroke-width="2.01" stroke-linecap="round"/><line x1="880.39" y1="210.30" x2="881.08" y2="210.58" stroke="#0e0e44" stroke-width="1.88" stroke-linecap="round"/><line x1="881.08" y1="210.58" x2="881.78" y2="210.80" stroke="#0c0c38" stroke-width="1.76" stroke-linecap="round"/><line x1="881.78" y1="210.80" x2="882.47" y2="210.98" stroke="#0c0c38" stroke-width="1.65" stroke-linecap="round"/><line x1="882.47" y1="210.98" x2="883.16" y2="211.10" stroke="#0c0c38" stroke-width="1.55" stroke-linecap="round"/><line x1="883.16" y1="211.10" x2="883.86" y2="211.17" stroke="#0c0c38" stroke-width="1.47" stroke-linecap="round"/><line x1="883.86" y1="211.17" x2="884.55" y2="211.20" stroke="#0c0c38" stroke-width="1.42" stroke-linecap="round"/><line x1="884.55" y1="211.20" x2="885.24" y2="211.17" stroke="#0c0c38" stroke-width="1.42" stroke-linecap="round"/><line x1="885.24" y1="211.17" x2="885.94" y2="211.10" stroke="#0c0c38" stroke-width="1.47" stroke-linecap="round"/><line x1="885.94" y1="211.10" x2="886.63" y2="210.98" stroke="#0c0c38" stroke-width="1.55" stroke-linecap="round"/><line x1="886.63" y1="210.98" x2="887.33" y2="210.80" stroke="#0c0c38" stroke-width="1.65" stroke-linecap="round"/><line x1="887.33" y1="210.80" x2="888.02" y2="210.58" stroke="#0c0c38" stroke-width="1.76" stroke-linecap="round"/><line x1="888.02" y1="210.58" x2="888.71" y2="210.30" stroke="#0e0e44" stroke-width="1.88" stroke-linecap="round"/><line x1="888.71" y1="210.30" x2="889.41" y2="209.98" stroke="#101053" stroke-width="2.01" stroke-linecap="round"/><line x1="889.41" y1="209.98" x2="890.10" y2="209.61" stroke="#121262" stroke-width="2.14" stroke-linecap="round"/><line x1="890.10" y1="209.61" x2="890.79" y2="209.20" stroke="#151570" stroke-width="2.28" stroke-linecap="round"/><line x1="890.79" y1="209.20" x2="891.49" y2="208.73" stroke="#17177d" stroke-width="2.42" stroke-linecap="round"/><line x1="891.49" y1="208.73" x2="892.18" y2="208.22" stroke="#19198a" stroke-width="2.56" stroke-linecap="round"/><line x1="892.18" y1="208.22" x2="892.88" y2="207.66" stroke="#1b1b97" stroke-width="2.70" stroke-linecap="round"/><line x1="892.88" y1="207.66" x2="893.57" y2="207.06" stroke="#1d1da2" stroke-width="2.83" stroke-linecap="round"/><line x1="893.57" y1="207.06" x2="894.26" y2="206.42" stroke="#1e1ead" stroke-width="2.96" stroke-linecap="round"/><line x1="894.26" y1="206.42" x2="894.96" y2="205.72" stroke="#2020b4" stroke-width="3.08" stroke-linecap="round"/><line x1="894.96" y1="205.72" x2="895.65" y2="204.99" stroke="#2020b4" stroke-width="3.20" stroke-linecap="round"/><line x1="895.65" y1="204.99" x2="896.34" y2="204.20" stroke="#2020b4" stroke-width="3.30" stroke-linecap="round"/><line x1="896.34" y1="204.20" x2="897.04" y2="203.37" stroke="#2020b4" stroke-width="3.40" stroke-linecap="round"/><line x1="897.04" y1="203.37" x2="897.73" y2="202.49" stroke="#2020b4" stroke-width="3.48" stroke-linecap="round"/><line x1="897.73" y1="202.49" x2="898.43" y2="201.55" stroke="#2020b4" stroke-width="3.55" stroke-linecap="round"/><line x1="898.43" y1="201.55" x2="899.12" y2="200.55" stroke="#2020b4" stroke-width="3.61" stroke-linecap="round"/><line x1="899.12" y1="200.55" x2="899.81" y2="199.46" stroke="#2020b4" stroke-width="3.65" stroke-linecap="round"/><line x1="899.81" y1="199.46" x2="900.51" y2="198.25" stroke="#2020b4" stroke-width="3.68" stroke-linecap="round"/><line x1="900.51" y1="198.25" x2="901.20" y2="196.60" stroke="#2020b4" stroke-width="3.70" stroke-linecap="round"/><line x1="901.20" y1="196.60" x2="901.89" y2="194.95" stroke="#2020b4" stroke-width="3.70" stroke-linecap="round"/><line x1="901.89" y1="194.95" x2="902.59" y2="193.74" stroke="#2020b4" stroke-width="3.68" stroke-linecap="round"/><line x1="902.59" y1="193.74" x2="903.28" y2="192.65" stroke="#2020b4" stroke-width="3.65" stroke-linecap="round"/><line x1="903.28" y1="192.65" x2="903.98" y2="191.65" stroke="#2020b4" stroke-width="3.61" stroke-linecap="round"/><line x1="903.98" y1="191.65" x2="904.67" y2="190.71" stroke="#2020b4" stroke-width="3.55" stroke-linecap="round"/><line x1="904.67" y1="190.71" x2="905.36" y2="189.83" stroke="#2020b4" stroke-width="3.48" stroke-linecap="round"/><line x1="905.36" y1="189.83" x2="906.06" y2="189.00" stroke="#2020b4" stroke-width="3.40" stroke-linecap="round"/><line x1="906.06" y1="189.00" x2="906.75" y2="188.21" stroke="#2020b4" stroke-width="3.30" stroke-linecap="round"/><line x1="906.75" y1="188.21" x2="907.44" y2="187.48" stroke="#2020b4" stroke-width="3.20" stroke-linecap="round"/><line x1="907.44" y1="187.48" x2="908.14" y2="186.78" stroke="#2020b4" stroke-width="3.08" stroke-linecap="round"/><line x1="908.14" y1="186.78" x2="908.83" y2="186.14" stroke="#1e1ead" stroke-width="2.96" stroke-linecap="round"/><line x1="908.83" y1="186.14" x2="909.53" y2="185.54" stroke="#1d1da2" stroke-width="2.83" stroke-linecap="round"/></g>
<text x="366.07" y="47.2" font-size="27.35" font-weight="bold" text-anchor="start" fill="#000" font-family="Liberation Sans" >Data Flow in dbSNP</text><text x="114.35" y="78.75" font-size="13.75" font-weight="bold" text-anchor="start" fill="#000" font-family="Liberation Sans" >a) Submission</text><text x="362.89" y="79.7" font-size="13.83" font-weight="bold" text-anchor="start" fill="#000" font-family="Liberation Sans" >b) Database Build</text><text x="627.46" y="79.0" font-size="13.9" font-weight="bold" text-anchor="start" fill="#000" font-family="Liberation Sans" >c) Retrieval</text><text x="821.13" y="77.6" font-size="13.88" font-weight="bold" text-anchor="start" fill="#000" font-family="Liberation Sans" >d) Applications</text><text x="22.13" y="129.5" font-size="16.0" font-weight="bold" text-anchor="start" fill="#000" font-family="Liberation Sans" >Research labs</text><text x="10.64" y="229.6" font-size="16.0" font-weight="bold" text-anchor="start" fill="#000" font-family="Liberation Sans" >Sequencing centers</text><text x="39.93" y="332.9" font-size="16.0" font-weight="bold" text-anchor="start" fill="#000" font-family="Liberation Sans" >Databases</text><text x="180.04" y="161.8" font-size="16.0" font-weight="bold" text-anchor="start" fill="#000" font-family="Liberation Sans" >ss1234</text><text x="146.07" y="180.1" font-size="16.1" font-weight="bold" text-anchor="start" fill="#000" font-family="Liberation Sans" >--TGA[G/C]CTA--</text><text x="180.54" y="257.7" font-size="16.0" font-weight="bold" text-anchor="start" fill="#000" font-family="Liberation Sans" >ss2468</text><text x="146.27" y="274.6" font-size="16.1" font-weight="bold" text-anchor="start" fill="#000" font-family="Liberation Sans" >--TGA[G/C]CTA--</text><text x="179.64" y="354.1" font-size="16.0" font-weight="bold" text-anchor="start" fill="#000" font-family="Liberation Sans" >ss1768</text><text x="144.07" y="373.3" font-size="16.1" font-weight="bold" text-anchor="start" fill="#000" font-family="Liberation Sans" >--TGA[G/C]CTA--</text><text x="522.05" y="243.8" font-size="16.0" font-weight="bold" text-anchor="start" fill="#000" font-family="Liberation Sans" >rs987</text><text x="610.14" y="171.8" font-size="16.0" font-weight="bold" text-anchor="start" fill="#000" font-family="Liberation Sans" >Genotypes</text><text x="610.4" y="189.8" font-size="16.0" font-weight="bold" text-anchor="start" fill="#000" font-family="Liberation Sans" >Allele frequencies</text><text x="609.73" y="207.7" font-size="16.0" font-weight="bold" text-anchor="start" fill="#000" font-family="Liberation Sans" >Location</text><text x="609.73" y="226.8" font-size="16.0" font-weight="bold" text-anchor="start" fill="#000" font-family="Liberation Sans" >Heterozygosity</text><text x="609.73" y="245" font-size="16.0" font-weight="bold" text-anchor="start" fill="#000" font-family="Liberation Sans" >Literature</text><text x="609.73" y="263.6" font-size="16.0" font-weight="bold" text-anchor="start" fill="#000" font-family="Liberation Sans" >Pubmed</text><text x="610.14" y="281.8" font-size="16.0" font-weight="bold" text-anchor="start" fill="#000" font-family="Liberation Sans" >OMIM</text><text x="610.14" y="300.1" font-size="16.0" font-weight="bold" text-anchor="start" fill="#000" font-family="Liberation Sans" >Gene view</text><text x="609.73" y="318.2" font-size="16.0" font-weight="bold" text-anchor="start" fill="#000" font-family="Liberation Sans" >Map view</text><text x="610.69" y="336.9" font-size="16.0" font-weight="bold" text-anchor="start" fill="#000" font-family="Liberation Sans" >Validation</text><text x="806.0" y="162.8" font-size="14.95" font-weight="bold" text-anchor="start" fill="#000" font-family="Liberation Sans" >Pharmacogenomics</text><text x="796.0" y="234.7" font-size="14.95" font-weight="bold" text-anchor="start" fill="#000" font-family="Liberation Sans" >Functional genomics</text><text x="845.6" y="289.5" font-size="14.6" font-weight="bold" text-anchor="start" fill="#000" font-family="Liberation Sans" >GWAS</text><text x="791.9" y="362.7" font-size="14.9" font-weight="bold" text-anchor="start" fill="#000" font-family="Liberation Sans" >Evolutionary studies</text><text transform="translate(371.6,235) scale(0.88,1)" x="0" y="0" font-size="29.6" font-weight="normal" fill="#000" font-family="Liberation Sans">NCBI</text>
</svg>
</body></html>
